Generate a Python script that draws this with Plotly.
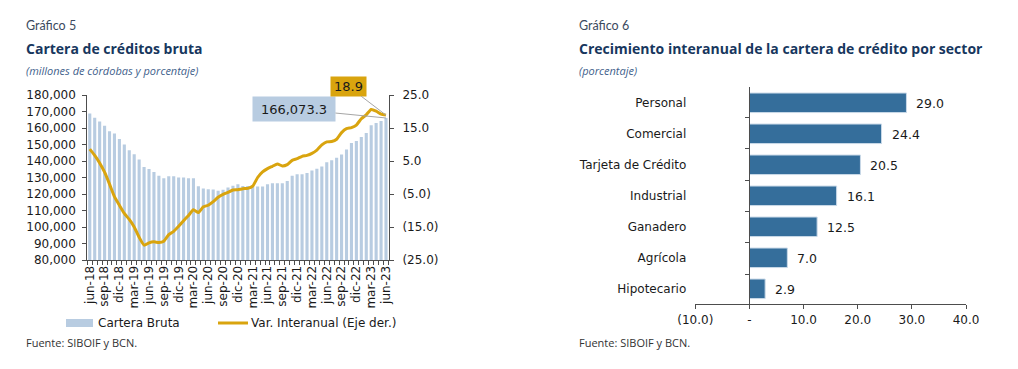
import plotly.graph_objects as go

# ---------------- data: Gráfico 5 ----------------
meses = [
    "jun-18", "jul-18", "ago-18", "sep-18", "oct-18", "nov-18", "dic-18",
    "ene-19", "feb-19", "mar-19", "abr-19", "may-19", "jun-19", "jul-19", "ago-19", "sep-19", "oct-19", "nov-19", "dic-19",
    "ene-20", "feb-20", "mar-20", "abr-20", "may-20", "jun-20", "jul-20", "ago-20", "sep-20", "oct-20", "nov-20", "dic-20",
    "ene-21", "feb-21", "mar-21", "abr-21", "may-21", "jun-21", "jul-21", "ago-21", "sep-21", "oct-21", "nov-21", "dic-21",
    "ene-22", "feb-22", "mar-22", "abr-22", "may-22", "jun-22", "jul-22", "ago-22", "sep-22", "oct-22", "nov-22", "dic-22",
    "ene-23", "feb-23", "mar-23", "abr-23", "may-23", "jun-23",
]
meses_etiqueta = ["jun-18", "sep-18", "dic-18", "mar-19", "jun-19", "sep-19", "dic-19", "mar-20", "jun-20", "sep-20",
                  "dic-20", "mar-21", "jun-21", "sep-21", "dic-21", "mar-22", "jun-22", "sep-22", "dic-22", "mar-23", "jun-23"]

cartera_bruta = [
    168800, 166200, 164000, 161300, 158100, 156700, 153400, 150000, 146500, 144100, 140900, 136400, 135200, 133300, 131100,
    129600, 130800, 130800, 130000, 130000, 129500, 129500, 124700, 123400, 122900, 122800, 121900, 122600, 124000, 125000,
    125900, 124900, 124900, 125300, 124500, 124500, 125900, 126500, 126500, 126500, 127900, 131000, 132000, 132000, 132700,
    134200, 135300, 136700, 139300, 140400, 142000, 144000, 146900, 150900, 152100, 154600, 157000, 161700, 163100, 164300,
    166073.3,
]
var_interanual = [
    8.6, 6.7, 4.4, 1.6, -2.0, -5.8, -8.4, -10.9, -12.7, -15.0, -18.1, -20.5, -19.8, -19.5, -19.7,
    -19.3, -17.3, -16.3, -14.8, -13.1, -11.5, -9.8, -10.6, -8.9, -8.4, -7.3, -6.0, -5.1, -4.5, -3.8,
    -3.7, -3.4, -3.3, -2.6, 0.0, 1.7, 2.7, 3.4, 4.1, 3.5, 3.9, 5.2, 5.7, 6.4, 6.7,
    7.3, 8.3, 9.9, 10.8, 10.9, 11.6, 13.6, 14.8, 15.1, 15.9, 17.8, 19.0, 20.6, 20.1, 19.2, 18.9,
]
serie_barras = "Cartera Bruta"
serie_linea = "Var. Interanual (Eje der.)"
y2_ticks = [25, 15, 5, -5, -15, -25]
y2_labels = ["25.0", "15.0", "5.0", "(5.0)", "(15.0)", "(25.0)"]

# ---------------- data: Gráfico 6 ----------------
sectores = ["Personal", "Comercial", "Tarjeta de Crédito", "Industrial", "Ganadero", "Agrícola", "Hipotecario"]
crecimiento = [29.0, 24.4, 20.5, 16.1, 12.5, 7.0, 2.9]
x3_ticks = [-10, 0, 10, 20, 30, 40]
x3_labels = ["(10.0)", "-", "10.0", "20.0", "30.0", "40.0"]

# ---------------- styling ----------------
W, H = 1018, 369
def px(x):
    return x / W
def py(y):
    return 1 - y / H

BAR_LIGHT = "#b8cce1"
GOLD = "#d9a40e"
BAR_DARK = "#356e9b"
AXIS = "#4d4d4d"
TXT = "#1a1a1a"
TITLE = "#17375e"
TICKFONT = dict(family="DejaVu Sans", size=12, color=TXT)

fig = go.Figure()

fig.add_trace(go.Bar(
    x=meses, y=cartera_bruta, name=serie_barras, showlegend=False,
    marker=dict(color=BAR_LIGHT, line=dict(width=0)),
    xaxis="x", yaxis="y",
))
fig.add_trace(go.Scatter(
    x=meses, y=var_interanual, name=serie_linea, showlegend=False,
    mode="lines", line=dict(color=GOLD, width=3, shape="spline", smoothing=0.5),
    xaxis="x", yaxis="y2",
))
fig.add_trace(go.Bar(
    x=crecimiento, y=sectores, orientation="h", showlegend=False,
    marker=dict(color=BAR_DARK, line=dict(color="#c9d9e8", width=1)),
    xaxis="x3", yaxis="y3",
))
fig.add_trace(go.Scatter(
    x=crecimiento, y=sectores, mode="markers", marker=dict(opacity=0),
    showlegend=False, hoverinfo="skip", xaxis="x3", yaxis="y4",
))

tick_text = [m if m in meses_etiqueta else "" for m in meses]

fig.update_layout(
    width=W, height=H,
    margin=dict(l=0, r=0, t=0, b=0, autoexpand=False),
    paper_bgcolor="white", plot_bgcolor="white",
    bargap=0.37,
    showlegend=False,
    xaxis=dict(
        domain=[px(87.3), px(389)], anchor="y", type="category", automargin=False,
        tickmode="array", tickvals=meses, ticktext=tick_text, tickangle=-90,
        tickson="boundaries", ticks="outside", ticklen=4, tickcolor=AXIS,
        showline=True, linecolor=AXIS, linewidth=1, showgrid=False,
        tickfont=TICKFONT,
    ),
    yaxis=dict(
        domain=[py(260), py(95)], anchor="x", range=[80000, 180000], dtick=10000,
        tickformat=",", ticks="outside", ticklen=4, tickcolor=AXIS, automargin=False,
        showline=True, linecolor=AXIS, showgrid=False, zeroline=False,
        tickfont=TICKFONT, ticklabelstandoff=4,
    ),
    yaxis2=dict(
        overlaying="y", side="right", anchor="x", range=[-25, 25], automargin=False,
        tickmode="array", tickvals=y2_ticks, ticktext=y2_labels,
        ticks="outside", ticklen=4, tickcolor=AXIS,
        showline=True, linecolor=AXIS, showgrid=False, zeroline=False,
        tickfont=TICKFONT, ticklabelstandoff=6,
    ),
    xaxis3=dict(
        domain=[px(695.3), px(966)], anchor="y3", range=[-10, 40], automargin=False,
        tickmode="array", tickvals=x3_ticks, ticktext=x3_labels,
        ticks="outside", ticklen=4, tickcolor=AXIS,
        showline=True, linecolor=AXIS, showgrid=False, zeroline=False,
        tickfont=TICKFONT,
    ),
    yaxis3=dict(
        domain=[py(304.3), py(87.3)], anchor="x3", type="category", automargin=False,
        autorange="reversed", showline=False, ticks="", showgrid=False,
        tickfont=TICKFONT, ticklabelstandoff=8,
    ),
    yaxis4=dict(
        overlaying="y3", anchor="free", position=px(749.3), type="category", automargin=False,
        autorange="reversed", showline=True, linecolor=AXIS, ticks="outside",
        tickson="boundaries", ticklen=4, tickcolor=AXIS,
        showticklabels=False, showgrid=False,
    ),
)

annotations = []
shapes = []

def txt(x, y, s, size, color, family="Lato", bold=False, italic=False):
    if bold:
        s = "<b>" + s + "</b>"
    if italic:
        s = "<i>" + s + "</i>"
    annotations.append(dict(
        x=px(x), y=py(y), xref="paper", yref="paper", text=s, showarrow=False,
        xanchor="left", yanchor="middle", font=dict(family=family, size=size, color=color),
    ))

txt(24, 26, "Gráfico 5", 12.5, "#3b4a60")
txt(24, 48, "Cartera de créditos bruta", 14, TITLE, family="Open Sans", bold=True)
txt(24, 70, "(millones de córdobas y porcentaje)", 11, "#3f5f8c", family="Open Sans", italic=True)
txt(24, 342, "Fuente: SIBOIF y BCN.", 11, "#333333", family="Open Sans")
txt(577, 26, "Gráfico 6", 12.5, "#3b4a60")
txt(577, 48, "Crecimiento interanual de la cartera de crédito por sector", 14, TITLE, family="Open Sans", bold=True)
txt(577, 70, "(porcentaje)", 11, "#3f5f8c", family="Open Sans", italic=True)
txt(577, 342, "Fuente: SIBOIF y BCN.", 11, "#333333", family="Open Sans")

# legend (chart 5)
shapes.append(dict(type="rect", xref="paper", yref="paper",
                   x0=px(66), x1=px(93), y0=py(327), y1=py(319),
                   fillcolor=BAR_LIGHT, line=dict(width=0)))
shapes.append(dict(type="line", xref="paper", yref="paper",
                   x0=px(218), x1=px(248), y0=py(323), y1=py(323),
                   line=dict(color=GOLD, width=3)))
txt(96, 323, serie_barras, 12, TXT, family="DejaVu Sans")
txt(249, 323, serie_linea, 12, TXT, family="DejaVu Sans")

# data labels, chart 5
annotations.append(dict(
    x=meses[-1], y=cartera_bruta[-1], xref="x", yref="y",
    text=f"{cartera_bruta[-1]:,.1f}", showarrow=True, arrowhead=0, arrowwidth=1,
    arrowcolor="#a6a6a6", ax=-92, ay=-9, bgcolor=BAR_LIGHT,
    width=76, height=18, borderpad=3, font=dict(family="DejaVu Sans", size=13, color=TXT),
))
annotations.append(dict(
    x=meses[-1], y=var_interanual[-1], xref="x", yref="y2",
    text=f"{var_interanual[-1]:.1f}", showarrow=True, arrowhead=0, arrowwidth=1,
    arrowcolor="#a6a6a6", ax=-38, ay=-29, bgcolor=GOLD,
    width=31, height=15, borderpad=2, font=dict(family="DejaVu Sans", size=13, color=TXT),
))
# data labels, chart 6
for s, v in zip(sectores, crecimiento):
    annotations.append(dict(
        x=v, y=s, xref="x3", yref="y3", text=f"{v:.1f}", showarrow=False,
        xanchor="left", yanchor="middle", xshift=8, yshift=-1,
        font=dict(family="DejaVu Sans", size=12.5, color=TXT),
    ))

fig.update_layout(annotations=annotations, shapes=shapes)

fig.write_html(
    "out.html", include_plotlyjs=True, full_html=True,
    config={"displayModeBar": False},
    post_script="document.body.style.margin='0px';document.body.style.overflow='hidden';",
)
